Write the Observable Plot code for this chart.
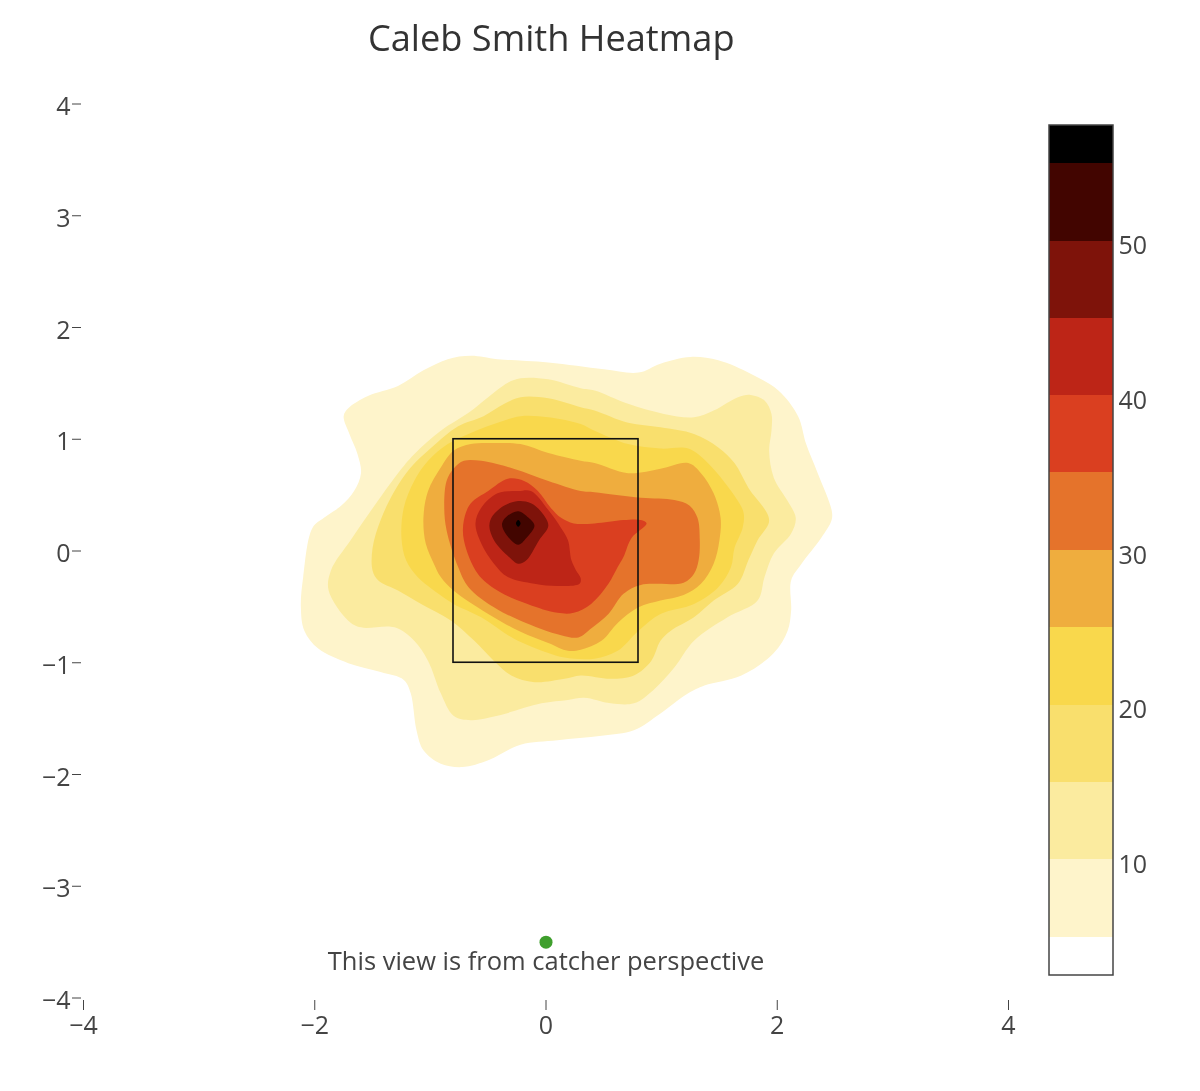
<!DOCTYPE html>
<html>
<head>
<meta charset="utf-8">
<script src="https://cdn.jsdelivr.net/npm/d3@7"></script>
<script src="https://cdn.jsdelivr.net/npm/@observablehq/plot@0.6"></script>
<style>
html,body{margin:0;padding:0;background:#fff}
#wrap{position:relative;width:1200px;height:1091px;overflow:hidden}
#wrap svg{position:absolute;left:0;top:0;background:transparent;filter:blur(0.6px)}
</style>
</head>
<body>
<div id="wrap"></div>
<script>
const titleText = "Caleb Smith Heatmap";
const noteText = "This view is from catcher perspective";
const axisTicks = [-4,-2,0,2,4];
const yAxisTicks = [-4,-3,-2,-1,0,1,2,3,4];
const barTicks = [10,20,30,40,50];
const bandEdges = [2.8,5.25,10.3,15.3,20.25,25.3,30.3,35.3,40.3,45.3,50.25,55.3,57.75];
const bandColors = ["#ffffff","#fef4cb","#fbeb9f","#f9df6d","#f9d84c","#efad3e","#e5732b","#da3f20","#bd2517","#7e130a","#420500","#000000"];
const zoneX = [-0.8,0.8];
const zoneY = [-1,1];
const plateDot = [[0,-3.5]];

const level5 = [[-1.75,1.22],[-1.71,1.29],[-1.54,1.40],[-1.28,1.49],[-1.06,1.63],[-0.85,1.73],[-0.65,1.76],[-0.42,1.73],[0.02,1.70],[0.50,1.64],[0.80,1.61],[0.99,1.69],[1.25,1.75],[1.49,1.72],[1.77,1.60],[2.01,1.45],[2.18,1.22],[2.25,0.97],[2.35,0.71],[2.47,0.38],[2.47,0.29],[2.38,0.13],[2.21,-0.10],[2.12,-0.25],[2.12,-0.52],[2.09,-0.70],[1.97,-0.90],[1.69,-1.10],[1.37,-1.19],[1.23,-1.26],[0.99,-1.44],[0.76,-1.59],[0.48,-1.64],[0.10,-1.68],[-0.22,-1.72],[-0.50,-1.86],[-0.72,-1.92],[-0.91,-1.89],[-1.06,-1.77],[-1.12,-1.59],[-1.17,-1.26],[-1.23,-1.14],[-1.43,-1.07],[-1.71,-0.99],[-1.97,-0.86],[-2.09,-0.70],[-2.12,-0.49],[-2.10,-0.22],[-2.02,0.22],[-1.92,0.31],[-1.77,0.42],[-1.66,0.55],[-1.60,0.71],[-1.63,0.88],[-1.70,1.06]];
const level10 = [[0.30,1.47],[0.02,1.55],[-0.22,1.56],[-0.33,1.52],[-0.50,1.39],[-0.67,1.25],[-0.91,1.09],[-1.14,0.88],[-1.28,0.71],[-1.51,0.38],[-1.69,0.11],[-1.86,-0.16],[-1.88,-0.34],[-1.71,-0.61],[-1.60,-0.67],[-1.31,-0.67],[-1.14,-0.79],[-1.02,-0.97],[-0.91,-1.26],[-0.80,-1.46],[-0.65,-1.50],[-0.42,-1.46],[-0.04,-1.35],[0.19,-1.32],[0.33,-1.30],[0.56,-1.35],[0.76,-1.35],[0.93,-1.23],[1.11,-1.03],[1.28,-0.79],[1.57,-0.58],[1.83,-0.43],[1.89,-0.22],[1.97,-0.01],[2.12,0.17],[2.16,0.31],[2.09,0.46],[1.97,0.67],[1.93,0.91],[1.95,1.09],[1.95,1.24],[1.89,1.36],[1.77,1.41],[1.66,1.39],[1.45,1.27],[1.28,1.21],[1.02,1.24],[0.71,1.33],[0.42,1.45]];
const level15 = [[0.30,1.30],[0.02,1.38],[-0.22,1.39],[-0.36,1.33],[-0.54,1.22],[-0.76,1.13],[-0.99,0.94],[-1.17,0.76],[-1.31,0.55],[-1.43,0.29],[-1.50,0.04],[-1.50,-0.16],[-1.45,-0.25],[-1.28,-0.34],[-1.08,-0.46],[-0.82,-0.61],[-0.62,-0.79],[-0.45,-0.97],[-0.30,-1.10],[-0.10,-1.16],[0.16,-1.13],[0.30,-1.10],[0.56,-1.13],[0.76,-1.10],[0.91,-0.97],[0.99,-0.79],[1.08,-0.70],[1.28,-0.58],[1.45,-0.43],[1.66,-0.28],[1.75,-0.07],[1.83,0.11],[1.93,0.29],[1.75,0.58],[1.63,0.80],[1.49,0.94],[1.28,1.06],[0.99,1.12],[0.71,1.16],[0.42,1.27]];
const level20 = [[0.30,1.15],[0.02,1.21],[-0.22,1.22],[-0.45,1.15],[-0.65,1.07],[-0.85,0.97],[-1.02,0.82],[-1.14,0.64],[-1.23,0.40],[-1.25,0.13],[-1.21,-0.07],[-1.11,-0.22],[-0.93,-0.37],[-0.80,-0.46],[-0.56,-0.58],[-0.28,-0.77],[0.02,-0.90],[0.16,-0.94],[0.42,-0.95],[0.62,-0.88],[0.80,-0.70],[0.99,-0.55],[1.28,-0.46],[1.49,-0.31],[1.60,-0.13],[1.63,0.04],[1.70,0.22],[1.71,0.35],[1.66,0.46],[1.40,0.80],[1.23,0.93],[0.99,0.93],[0.71,0.97],[0.42,1.09]];
const level25 = [[-0.80,0.91],[-0.65,0.97],[-0.45,0.98],[-0.22,0.97],[0.02,0.89],[0.30,0.82],[0.42,0.80],[0.71,0.71],[0.99,0.75],[1.23,0.80],[1.34,0.71],[1.45,0.53],[1.51,0.31],[1.50,0.11],[1.45,-0.10],[1.34,-0.28],[1.19,-0.38],[0.99,-0.43],[0.80,-0.49],[0.62,-0.63],[0.48,-0.79],[0.30,-0.87],[0.19,-0.88],[0.02,-0.81],[-0.22,-0.71],[-0.50,-0.55],[-0.80,-0.34],[-0.91,-0.22],[-0.97,-0.10],[-1.04,0.08],[-1.06,0.31],[-1.02,0.55],[-0.91,0.76]];
const level30 = [[-0.80,0.75],[-0.71,0.82],[-0.56,0.82],[-0.28,0.75],[0.02,0.64],[0.30,0.55],[0.42,0.54],[0.82,0.49],[1.11,0.47],[1.24,0.42],[1.31,0.31],[1.33,0.11],[1.32,-0.07],[1.28,-0.19],[1.19,-0.27],[0.82,-0.29],[0.67,-0.37],[0.54,-0.55],[0.39,-0.68],[0.28,-0.76],[0.13,-0.74],[-0.22,-0.61],[-0.45,-0.49],[-0.67,-0.31],[-0.76,-0.13],[-0.86,0.20],[-0.88,0.40],[-0.86,0.64]];
const level35 = [[-0.33,0.66],[-0.19,0.64],[-0.07,0.55],[0.04,0.40],[0.13,0.31],[0.24,0.26],[0.42,0.26],[0.67,0.29],[0.82,0.29],[0.87,0.26],[0.74,0.13],[0.67,-0.04],[0.62,-0.13],[0.54,-0.28],[0.39,-0.46],[0.24,-0.54],[0.10,-0.54],[-0.16,-0.46],[-0.42,-0.34],[-0.59,-0.19],[-0.71,0.11],[-0.71,0.29],[-0.65,0.44],[-0.50,0.55]];
const level40 = [[-0.24,0.55],[-0.13,0.55],[0.02,0.38],[0.13,0.22],[0.19,0.11],[0.22,-0.07],[0.26,-0.16],[0.30,-0.23],[0.29,-0.28],[0.10,-0.30],[-0.10,-0.28],[-0.33,-0.22],[-0.45,-0.10],[-0.56,0.08],[-0.61,0.26],[-0.56,0.40],[-0.42,0.53]];
const level45 = [[-0.24,0.46],[-0.13,0.44],[-0.03,0.35],[0.02,0.24],[-0.06,0.11],[-0.17,-0.07],[-0.24,-0.10],[-0.32,-0.04],[-0.45,0.11],[-0.49,0.24],[-0.46,0.33],[-0.36,0.42]];
const level50 = [[-0.24,0.37],[-0.15,0.31],[-0.10,0.24],[-0.17,0.13],[-0.24,0.07],[-0.35,0.17],[-0.38,0.26],[-0.33,0.33]];
const level55 = [[-0.24,0.29],[-0.22,0.26],[-0.24,0.23],[-0.26,0.26]];

const contours = [level5,level10,level15,level20,level25,level30,level35,level40,level45,level50,level55];
const contourRows = contours.flatMap((pts,i)=>pts.map(([x,y])=>({x,y,band:i+1})));
const bandRows = bandColors.map((c,i)=>({band:i,lo:bandEdges[i],hi:bandEdges[i+1]}));
const colorScale = {type:"ordinal",domain:bandColors.map((c,i)=>i),range:bandColors};
const ink = "#444";
const font = "'Open Sans'";

const main = Plot.plot({
  width:1200,height:1091,
  marginLeft:83,marginRight:192,marginTop:103.5,marginBottom:93.5,
  style:{fontFamily:font,color:ink,background:"transparent"},
  x:{domain:[-4,4]},
  y:{domain:[-4,4]},
  color:colorScale,
  marks:[
    Plot.line(contourRows,{x:"x",y:"y",z:"band",fill:"band",stroke:null,curve:"catmull-rom-closed",dy:1.5}),
    Plot.rect([{}],{x1:()=>zoneX[0],x2:()=>zoneX[1],y1:()=>zoneY[0],y2:()=>zoneY[1],fill:"none",stroke:"#111",strokeWidth:1.6}),
    Plot.dot(plateDot,{x:d=>d[0],y:d=>d[1],r:6.5,fill:"#3f9f2d",stroke:null}),
    Plot.text([noteText],{x:()=>0,y:()=>-3.68,text:d=>d,fontSize:25.5,fill:ink,textAnchor:"middle"}),
    Plot.text([titleText],{x:()=>0.045,y:()=>4.578,text:d=>d,fontSize:36.2,fill:"#333",textAnchor:"middle"}),
    Plot.axisX({ticks:axisTicks,tickFormat:d3.format("d"),tickSize:10,tickPadding:6,fontSize:25,label:null,stroke:ink,strokeWidth:1,dy:2.5}),
    Plot.axisY({ticks:yAxisTicks,tickFormat:()=>"",tickSize:9,label:null,stroke:ink,strokeWidth:1,dx:-2}),
    Plot.axisY({ticks:yAxisTicks,tickFormat:d3.format("d"),tickSize:0,tickPadding:13,fontSize:25,label:null,dy:3})
  ]
});

const bar = Plot.plot({
  width:1200,height:1091,
  marginLeft:1049,marginRight:87,marginTop:125,marginBottom:116,
  style:{fontFamily:font,color:ink,background:"transparent"},
  x:{domain:[0,1],axis:null},
  y:{domain:[bandEdges[0],bandEdges[bandEdges.length-1]]},
  color:colorScale,
  marks:[
    Plot.rect(bandRows,{x1:()=>0,x2:()=>1,y1:"lo",y2:"hi",fill:"band",stroke:null,shapeRendering:"crispEdges"}),
    Plot.rect([{}],{x1:()=>0,x2:()=>1,y1:()=>bandEdges[0],y2:()=>bandEdges[bandEdges.length-1],fill:"none",stroke:ink,strokeWidth:1.5}),
    Plot.axisY({anchor:"right",ticks:barTicks,tickSize:0,tickPadding:5,fontSize:25,label:null,dy:1})
  ]
});
const wrap=document.getElementById("wrap");
wrap.append(main,bar);
</script>
</body>
</html>
